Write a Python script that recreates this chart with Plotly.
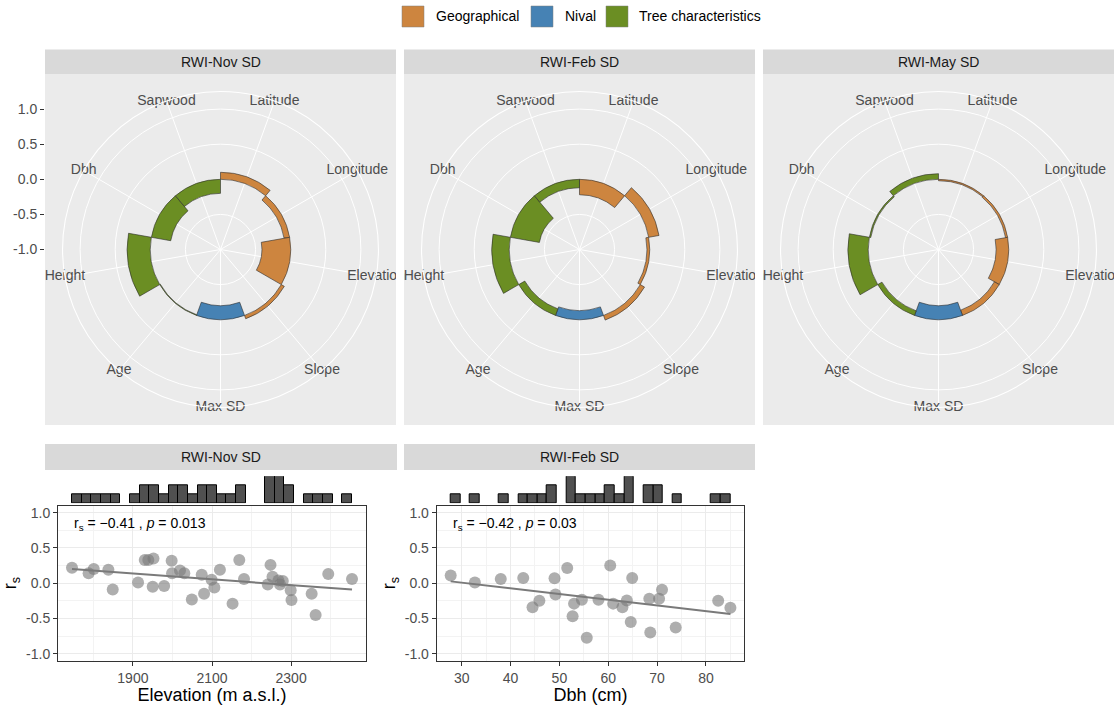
import numpy as np
import plotly.graph_objects as go

W, H = 1120, 706
FONT = "Liberation Sans, Arial, sans-serif"

# ---------------- data ----------------
categories = ["Latitude", "Longitude", "Elevation", "Slope", "Max SD",
              "Age", "Height", "Dbh", "Sapwood"]
cat_groups = ["Geographical", "Geographical", "Geographical", "Geographical",
              "Nival", "Tree characteristics", "Tree characteristics",
              "Tree characteristics", "Tree characteristics"]
group_names = ["Geographical", "Nival", "Tree characteristics"]
group_colors = ["#CD853F", "#4682B4", "#6B8E23"]

panel_titles = ["RWI-Nov SD", "RWI-Feb SD", "RWI-May SD"]
rs_nov = [0.10, -0.08, -0.41, 0.05, -0.20, -0.01, 0.33, -0.28, -0.20]
rs_feb = [-0.22, 0.15, -0.04, 0.07, -0.13, -0.10, 0.25, -0.42, -0.12]
rs_may = [-0.02, -0.03, -0.18, -0.08, -0.20, -0.07, 0.29, -0.02, 0.08]
polar_values = [rs_nov, rs_feb, rs_may]

radial_ticks = [-1.0, -0.5, 0.0, 0.5, 1.0]
radial_ticktext = ["-1.0", "-0.5", "0.0", "0.5", "1.0"]

elevation = [1746, 1788, 1801, 1838, 1849, 1913, 1930, 1939, 1952, 1950, 1979,
             1998, 1999, 2019, 2030, 2049, 2074, 2080, 2099, 2106, 2120, 2152,
             2169, 2181, 2248, 2241, 2253, 2268, 2272, 2279, 2299, 2301, 2352,
             2362, 2394, 2454]
rs_elevation = [0.22, 0.14, 0.20, 0.19, -0.09, 0.01, 0.33, 0.33, 0.35, -0.05,
                -0.04, 0.32, 0.14, 0.18, 0.14, -0.23, 0.12, -0.15, 0.05, -0.06,
                0.19, -0.29, 0.33, 0.06, 0.26, -0.02, 0.09, 0.04, -0.02, 0.03,
                -0.10, -0.24, -0.15, -0.45, 0.13, 0.06]
dbh = [27.75, 32.7, 38.0, 42.6, 44.5, 45.9, 49.0, 49.2, 51.6, 52.7, 53.0, 54.6,
       55.6, 58.0, 60.4, 61.0, 62.9, 63.8, 64.9, 64.6, 68.4, 68.6, 70.4, 71.0,
       73.8, 82.5, 85.0]
rs_dbh = [0.11, 0.01, 0.06, 0.075, -0.34, -0.25, 0.07, -0.16, 0.215, -0.47,
          -0.29, -0.235, -0.775, -0.235, 0.25, -0.29, -0.34, -0.245, 0.075,
          -0.55, -0.22, -0.70, -0.22, -0.094, -0.63, -0.25, -0.35]

scatter_titles = ["RWI-Nov SD", "RWI-Feb SD"]
stat_labels = ["r<sub>s</sub> = \u22120.41 , <i>p</i> = 0.013",
               "r<sub>s</sub> = \u22120.42 , <i>p</i> = 0.03"]
x_titles = ["Elevation (m a.s.l.)", "Dbh (cm)"]
elev_ticks = [1900, 2100, 2300]
dbh_ticks = [30, 40, 50, 60, 70, 80]
rs_ticks = [-1.0, -0.5, 0.0, 0.5, 1.0]
rs_ticktext = ["-1.0", "-0.5", "0.0", "0.5", "1.0"]
n_bins = 29

# ---------------- helpers ----------------
def px(x):
    return x / W


def py(y):
    return 1 - y / H


fig = go.Figure()
shapes = []
annotations = []

GRID_BG = "#EBEBEB"
STRIP_BG = "#D9D9D9"
TICK_COL = "#4D4D4D"

# ---------------- polar panels ----------------
panel_left = [45, 404, 763]
panel_w = 351
panel_top, panel_bot = 74, 425
cy = (panel_top + panel_bot) / 2
R = 0.45 * panel_w
theta_vals = [i * 40 for i in range(len(categories))]

for k in range(3):
    x0 = panel_left[k]
    cx = x0 + panel_w / 2
    pname = "polar" if k == 0 else f"polar{k+1}"
    sub = pname
    shapes.append(dict(type="rect", xref="paper", yref="paper", layer="below",
                       x0=px(x0), x1=px(x0 + panel_w), y0=py(panel_bot), y1=py(panel_top),
                       fillcolor=GRID_BG, line=dict(width=0)))
    shapes.append(dict(type="rect", xref="paper", yref="paper", layer="below",
                       x0=px(x0), x1=px(x0 + panel_w), y0=py(panel_top), y1=py(49.5),
                       fillcolor=STRIP_BG, line=dict(width=0)))
    annotations.append(dict(text=panel_titles[k], x=px(cx), y=py(62), xref="paper", yref="paper",
                            showarrow=False, xanchor="center", yanchor="middle",
                            font=dict(size=14, color="#1A1A1A", family=FONT)))
    vals = polar_values[k]
    for g, gname in enumerate(group_names):
        idx = [i for i, cg in enumerate(cat_groups) if cg == gname]
        fig.add_trace(go.Barpolar(
            r=[vals[i] for i in idx], theta=[theta_vals[i] for i in idx],
            base=[0] * len(idx), width=[40] * len(idx),
            marker=dict(color=group_colors[g], line=dict(color="#2B2B2B", width=0.6)),
            name=gname, showlegend=False, subplot=sub, hoverinfo="skip"))
    # theta labels centred on outer circle (as in ggplot coord_polar)
    fig.add_trace(go.Scatterpolar(
        r=[1.25] * len(categories), theta=theta_vals, mode="text", text=categories,
        textposition="middle center", cliponaxis=False,
        textfont=dict(size=14, color=TICK_COL, family=FONT),
        showlegend=False, subplot=sub, hoverinfo="skip"))
    fig.update_layout(**{pname: dict(
        domain=dict(x=[px(cx - R), px(cx + R)], y=[py(cy + R), py(cy - R)]),
        bgcolor="rgba(0,0,0,0)",
        radialaxis=dict(range=[-1, 1.25], tickvals=radial_ticks, showticklabels=False,
                        ticks="", showline=False, gridcolor="white", gridwidth=1.1, angle=90),
        angularaxis=dict(rotation=70, direction="clockwise", tickvals=theta_vals,
                         showticklabels=False, ticks="", gridcolor="white", gridwidth=1.1,
                         showline=True, linecolor="white", linewidth=1.1, thetaunit="degrees"),
    )})

# clip overflowing theta labels at the panel edges (white gaps)
for gx0, gx1 in [(396, 404), (755, 763), (1114, 1120)]:
    shapes.append(dict(type="rect", xref="paper", yref="paper", layer="above",
                       x0=px(gx0), x1=px(gx1), y0=py(panel_bot), y1=py(panel_top),
                       fillcolor="white", line=dict(width=0)))

# radial axis labels on the left of first polar panel
fig.add_trace(go.Scatter(x=[], y=[], xaxis="x5", yaxis="y5", showlegend=False))
fig.update_layout(
    xaxis5=dict(domain=[px(45), px(396)], visible=False, range=[0, 1], automargin=False),
    yaxis5=dict(domain=[py(cy), py(cy - R)], range=[-1, 1.25], anchor="x5",
                tickvals=radial_ticks, ticktext=radial_ticktext, ticks="outside",
                ticklen=4, tickcolor="#333333", tickwidth=1, showgrid=False,
                zeroline=False, showline=False, automargin=False,
                tickfont=dict(size=14, color=TICK_COL, family=FONT)),
)

# ---------------- scatter panels ----------------
sc_top, sc_bot = 505.7, 660.7
hist_top, hist_bot = 476.3, 503.3
sc_dom = [(58, 366), (436.7, 744.4)]
strip_x = [(45, 397), (404, 755)]
xs_all = [elevation, dbh]
ys_all = [rs_elevation, rs_dbh]
xticks_all = [elev_ticks, dbh_ticks]
minor_d = [100, 5]

for k in range(2):
    xa = "x" if k == 0 else "x3"
    ya = "y" if k == 0 else "y3"
    xh = "x2" if k == 0 else "x4"
    yh = "y2" if k == 0 else "y4"
    x = np.array(xs_all[k], dtype=float)
    y = np.array(ys_all[k], dtype=float)
    xmin, xmax = x.min(), x.max()
    rng = xmax - xmin
    xr = [xmin - 0.05 * rng, xmax + 0.05 * rng]

    # strip
    shapes.append(dict(type="rect", xref="paper", yref="paper", layer="below",
                       x0=px(strip_x[k][0]), x1=px(strip_x[k][1]), y0=py(470), y1=py(444),
                       fillcolor=STRIP_BG, line=dict(width=0)))
    annotations.append(dict(text=scatter_titles[k], x=px(sum(strip_x[k]) / 2), y=py(457),
                            xref="paper", yref="paper", showarrow=False,
                            xanchor="center", yanchor="middle",
                            font=dict(size=14, color="#1A1A1A", family=FONT)))

    # histogram (marginal)
    counts, edges = np.histogram(x, bins=n_bins, range=(xmin, xmax))
    centers = (edges[:-1] + edges[1:]) / 2
    bw = edges[1] - edges[0]
    keep = counts > 0
    fig.add_trace(go.Bar(x=centers[keep], y=counts[keep], width=bw,
                         marker=dict(color="#505050", line=dict(color="black", width=1)),
                         xaxis=xh, yaxis=yh, showlegend=False, hoverinfo="skip"))

    # points
    fig.add_trace(go.Scatter(x=x, y=y, mode="markers",
                             marker=dict(size=12, color="rgba(120,120,120,0.6)"),
                             xaxis=xa, yaxis=ya, showlegend=False, hoverinfo="skip"))
    # linear fit
    b1, b0 = np.polyfit(x, y, 1)
    fx = np.array([xmin, xmax])
    fig.add_trace(go.Scatter(x=fx, y=b0 + b1 * fx, mode="lines",
                             line=dict(color="#7A7A7A", width=2),
                             xaxis=xa, yaxis=ya, showlegend=False, hoverinfo="skip"))

    axis_common = dict(ticks="outside", ticklen=4, tickcolor="#333333", tickwidth=1,
                       showline=True, mirror=True, linecolor="#333333", linewidth=1,
                       zeroline=False, gridcolor="#EBEBEB", gridwidth=1, automargin=False,
                       tickfont=dict(size=14, color=TICK_COL, family=FONT))
    xkey = "xaxis" if k == 0 else "xaxis3"
    ykey = "yaxis" if k == 0 else "yaxis3"
    xhkey = "xaxis2" if k == 0 else "xaxis4"
    yhkey = "yaxis2" if k == 0 else "yaxis4"
    fig.update_layout(**{
        xkey: dict(domain=[px(sc_dom[k][0]), px(sc_dom[k][1])], range=xr, anchor=ya,
                   tickvals=xticks_all[k],
                   minor=dict(dtick=minor_d[k], tick0=xticks_all[k][0], showgrid=True,
                              gridcolor="#F3F3F3", gridwidth=0.6, ticks=""),
                   title=dict(text=x_titles[k], standoff=0,
                              font=dict(size=18, color="black", family=FONT)),
                   **axis_common),
        ykey: dict(domain=[py(sc_bot), py(sc_top)], range=[-1.1, 1.1], anchor=xa,
                   tickvals=rs_ticks, ticktext=rs_ticktext,
                   minor=dict(dtick=0.25, tick0=-1, showgrid=True,
                              gridcolor="#F3F3F3", gridwidth=0.6, ticks=""),
                   title=dict(text="r<sub>s</sub>", standoff=4,
                              font=dict(size=18, color="black", family=FONT)),
                   **axis_common),
        xhkey: dict(domain=[px(sc_dom[k][0]), px(sc_dom[k][1])], range=xr, anchor=yh,
                    visible=False, automargin=False),
        yhkey: dict(domain=[py(hist_bot), py(hist_top)], range=[0, counts.max()],
                    anchor=xh, visible=False, automargin=False),
    })
    annotations.append(dict(text=stat_labels[k], x=px(sc_dom[k][0] + 14), y=py(524),
                            xref="paper", yref="paper", showarrow=False,
                            xanchor="left", yanchor="middle",
                            font=dict(size=14, color="black", family=FONT)))

# ---------------- legend (manual) ----------------
leg_keys = [(402, 424, 434), (531, 553, 563), (606, 628, 637)]
for g, gname in enumerate(group_names):
    kx0, kx1, tx = leg_keys[g]
    shapes.append(dict(type="rect", xref="paper", yref="paper", layer="above",
                       x0=px(kx0), x1=px(kx1), y0=py(27), y1=py(6),
                       fillcolor=group_colors[g], line=dict(color="#7F7F7F", width=0.5)))
    annotations.append(dict(text=gname, x=px(tx), y=py(16.5), xref="paper", yref="paper",
                            showarrow=False, xanchor="left", yanchor="middle",
                            font=dict(size=14, color="black", family=FONT)))

fig.update_layout(
    width=W, height=H, margin=dict(l=0, r=0, t=0, b=0, autoexpand=False),
    paper_bgcolor="white", plot_bgcolor="rgba(0,0,0,0)",
    font=dict(family=FONT, size=14, color=TICK_COL),
    shapes=shapes, annotations=annotations, showlegend=False,
    bargap=0,
)

fig.write_html("out.html")
